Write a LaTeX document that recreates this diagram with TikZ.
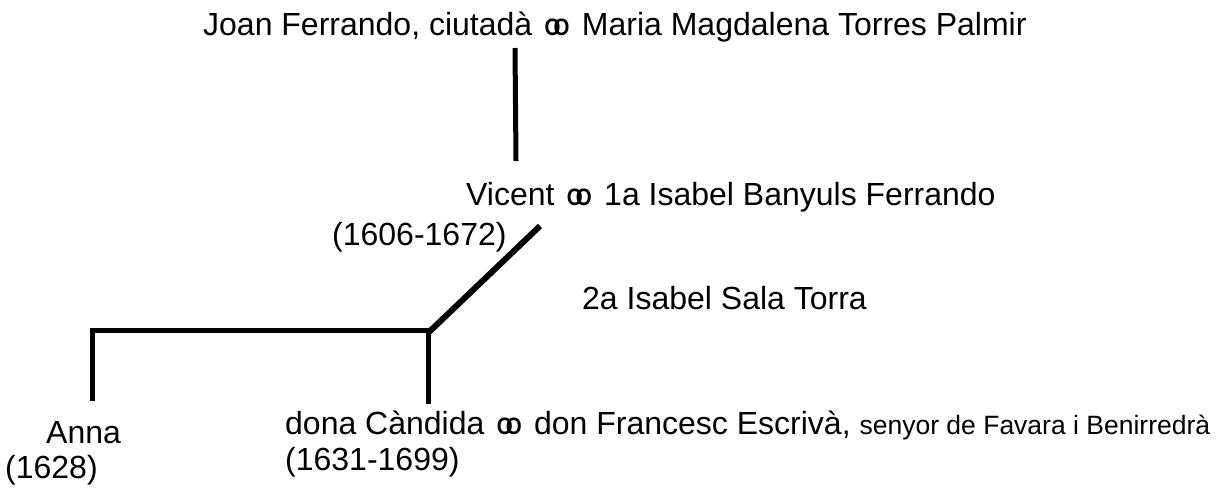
\documentclass[tikz,border=0pt]{standalone}
\usepackage{fontspec}
\setmainfont{Liberation Sans}
\newcommand{\marr}{\kern3.5pt\scalebox{0.64}[0.74]{\textbf{O}\kern-0.34em\textbf{O}}\kern3.5pt}
\tikzset{
  lbl/.style={anchor=base west, inner sep=0pt, font=\fontsize{32}{36}\selectfont},
  conn/.style={line width=5pt, line cap=butt, line join=miter}
}
\begin{document}
\begin{tikzpicture}[x=1pt,y=-1pt]
\useasboundingbox (0,0) rectangle (1231,488);
\node[lbl] (top) at (203,35) {Joan Ferrando, ciutadà \marr{} Maria Magdalena Torres Palmir};
\node[lbl] (vic) at (466,205) {Vicent \marr{} 1a Isabel Banyuls Ferrando};
\node[lbl] (vicd) at (332,245) {(1606-1672)};
\node[lbl] (sec) at (582,309) {2a Isabel Sala Torra};
\node[lbl] (anna) at (46,443) {Anna};
\node[lbl] (annad) at (5,478) {(1628)};
\node[lbl] (cand) at (285,434) {dona Càndida \marr{} don Francesc Escrivà, {\fontsize{26.5}{30}\selectfont senyor de Favara i Benirredrà}};
\node[lbl] (candd) at (285,470) {(1631-1699)};
\coordinate (t1) at (515,48);
\coordinate (t2) at (516,161);
\coordinate (d1) at (540,226);
\coordinate (j) at (428,333);
\coordinate (l) at (92,330);
\coordinate (la) at (92,401);
\coordinate (ca) at (428,404);
\draw[conn] (t1) -- (t2);
\draw[conn, line width=6pt] (d1) -- (j);
\draw[conn] (ca) -- (j|-l) -- (l) -- (la);
\end{tikzpicture}
\end{document}
